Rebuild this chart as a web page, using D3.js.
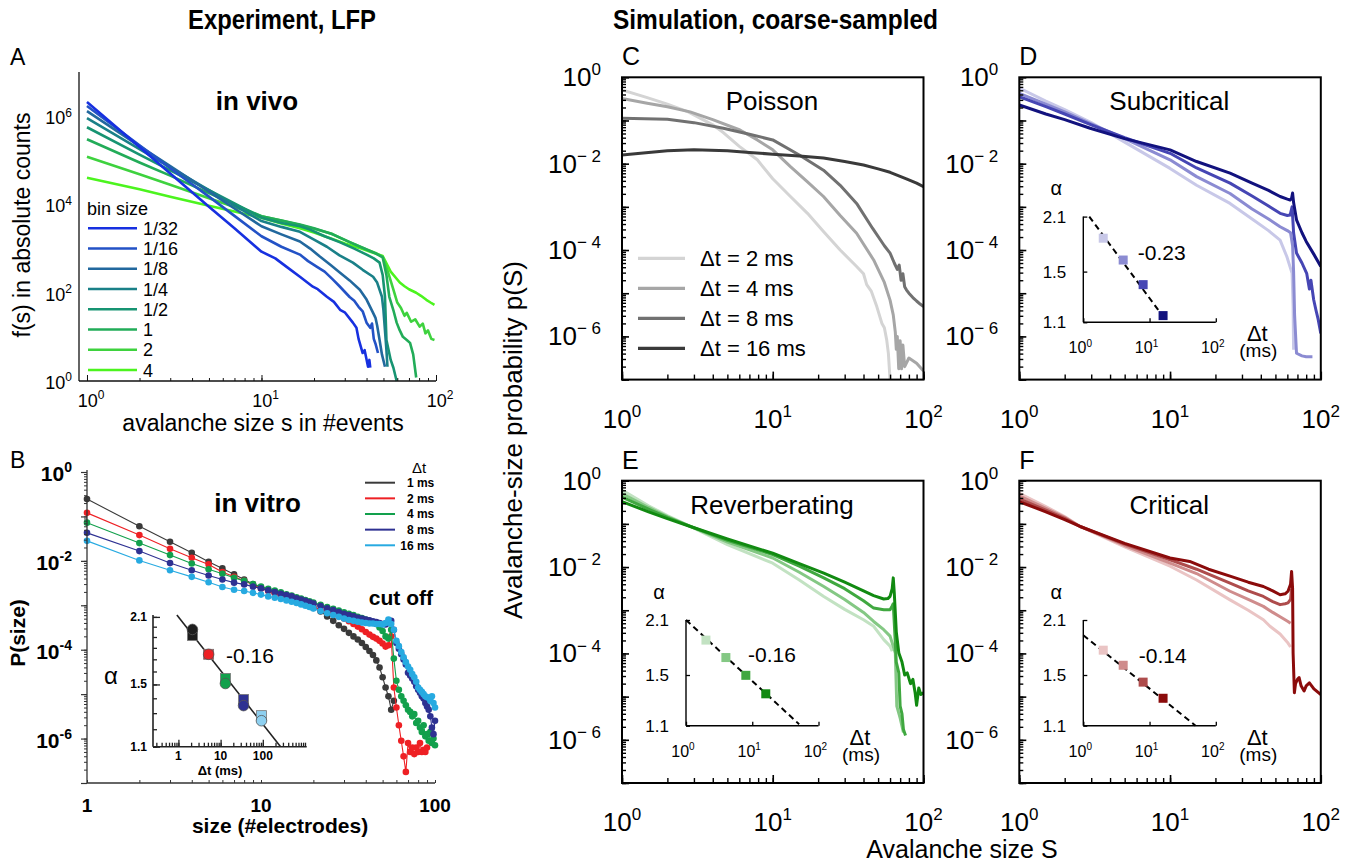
<!DOCTYPE html>
<html>
<head>
<meta charset="utf-8">
<script src="https://cdn.jsdelivr.net/npm/d3@7"></script>
<style>
  body { margin: 0; background: #fff; }
  svg { display: block; }
  text { font-family: "Liberation Sans", Arial, Helvetica, sans-serif; fill: #000; }
</style>
</head>
<body>
<script>
const width = 1364, height = 868;

// ---------- A: in vivo counts f(s), one curve per bin size ----------
const binLabels = ["1/32", "1/16", "1/8", "1/4", "1/2", "1", "2", "4"];
const binColors = ["#1730e0", "#2352c6", "#22689e", "#1a8088", "#179472", "#22ac58", "#3ed23e", "#4cf41e"];
const vivo_1_32 = [[1,2.1e6],[2,2.0e5],[3,5.0e4],[5,8.9e3],[7,2.9e3],[10,850],[12,600],[14,380],[16.6,230],[19.7,137],[21,120],[23.7,81],[26,62],[28.2,41],[30,36],[33.4,21],[35,16],[36,9],[38,4.3],[39,5],[40.8,2.1],[41.5,3],[42,2]];
const vivo_1_16 = [[1,1.7e6],[2,2.2e5],[3,6.6e4],[5,1.5e4],[7,5.5e3],[10,1.9e3],[13,1.1e3],[16.6,730],[18.5,520],[20.7,390],[23,300],[25.6,200],[28,140],[32,80],[34,66],[36,48],[38,38],[40,21],[42,16],[43,20],[44,9],[45,7],[46.5,4.3]];
const vivo_1_8 = [[1,1.3e6],[2,2.1e5],[3,7.4e4],[5,1.95e4],[7,8.1e3],[10,3.2e3],[13,2.1e3],[16.6,1.45e3],[19,1.0e3],[21.6,660],[25,420],[28.2,285],[32,190],[36.6,117],[40,70],[43.6,35],[45,27],[46,18],[47.5,8.5],[49,4],[51,2.1]];
const vivo_1_4 = [[1,9e5],[2,1.8e5],[3,6.9e4],[5,2.1e4],[7,9.5e3],[10,4.2e3],[13,3.1e3],[16.6,2.4e3],[20,1.6e3],[23.7,1.1e3],[28,700],[33.4,480],[38,330],[43.6,230],[46,170],[49,81],[50,40],[51,14],[52,5],[52.7,2.1]];
const vivo_1_2 = [[1,5.6e5],[2,1.35e5],[3,5.9e4],[5,2.1e4],[7,1.05e4],[10,5e3],[13,3.8e3],[16.6,3.2e3],[18.9,2.7e3],[23,1.9e3],[28,1.4e3],[34,1e3],[40,730],[44,600],[47.5,480],[49.5,250],[51,81],[52,8.5],[55,3],[57,2],[59.5,1]];
const vivo_1 = [[1,3e5],[2,8.9e4],[3,4.5e4],[5,1.8e4],[7,1.0e4],[10,5.4e3],[13,4.3e3],[16.6,3.5e3],[20,2.9e3],[25.6,2.1e3],[32,1.4e3],[40,950],[45,780],[49.5,630],[52,250],[54,81],[57,40],[59.5,21],[62,14],[64.6,10],[68,8.5],[71,7.3],[74,4],[77,1.2]];
const vivo_2 = [[1,1.2e5],[2,4.8e4],[3,2.8e4],[5,1.38e4],[7,8.7e3],[10,5.4e3],[13,4.3e3],[16.6,3.4e3],[20,2.8e3],[25,2.2e3],[32,1.4e3],[40,950],[45,800],[49.5,650],[53,300],[57,117],[60,60],[63,45],[66,30],[68,35],[72,22],[76,25],[80.6,17],[84,20],[87,12],[90,14],[94,9],[98,8.5]];
const vivo_4 = [[1,4e4],[2,2.2e4],[3,1.5e4],[5,9.3e3],[7,6.9e3],[10,5e3],[13,3.7e3],[16.6,2.9e3],[20,2.3e3],[25,1.7e3],[30,1.3e3],[36,1.05e3],[42,850],[49.5,680],[55,300],[62,170],[66,140],[70,120],[77,100],[82,85],[88,69],[93,60],[98,53]];
const vivoCurves = [vivo_1_32, vivo_1_16, vivo_1_8, vivo_1_4, vivo_1_2, vivo_1, vivo_2, vivo_4];

// ---------- B: in vitro P(size), log10 values at these sizes ----------
const vitroSizes = [1,2,3,4,5,6,7,8,9,10,11,12,13,14,15,16,17,18,19,20,22,24,26,28,30,32,34,36,38,40,42,44,46,48,50,52,54,56,58,60,62,64,66,68,70,72,74,76,78,80,82,84,86,88,90,92,94,96,98,100];
const vitroLabels = ["1 ms", "2 ms", "4 ms", "8 ms", "16 ms"];
const vitroColors = ["#3a3a3a", "#ee2024", "#12a04c", "#2e3192", "#27aae1"];
const logP_1ms = [-0.61,-1.22,-1.57,-1.82,-2.02,-2.17,-2.30,-2.42,-2.52,-2.60,-2.66,-2.72,-2.77,-2.82,-2.87,-2.91,-2.95,-2.99,-3.02,-3.06,
  -3.14,-3.25,-3.35,-3.45,-3.53,-3.62,-3.70,-3.77,-3.85,-3.94,-4.03,-4.12,-4.24,-4.40,-4.62,-4.85,-5.05,-5.35,-5.15];
const logP_2ms = [-0.92,-1.42,-1.73,-1.93,-2.08,-2.25,-2.36,-2.45,-2.54,-2.62,-2.68,-2.73,-2.78,-2.82,-2.86,-2.90,-2.94,-2.97,-3.00,-3.04,
  -3.10,-3.15,-3.20,-3.25,-3.30,-3.36,-3.42,-3.48,-3.54,-3.60,-3.66,-3.71,-3.75,-3.80,-3.86,-3.93,-3.90,-3.70,-4.85,-5.30,
  -5.70,-6.05,-6.40,-6.75,-6.10,-6.30,-6.20,-6.35,-6.20,-6.30,-6.10,-6.30,-6.25,-6.30,-6.20];
const logP_4ms = [-1.14,-1.60,-1.87,-2.06,-2.19,-2.29,-2.38,-2.45,-2.52,-2.58,-2.63,-2.67,-2.71,-2.75,-2.78,-2.82,-2.85,-2.88,-2.91,-2.94,
  -2.99,-3.04,-3.08,-3.12,-3.16,-3.19,-3.22,-3.26,-3.29,-3.32,-3.35,-3.38,-3.42,-3.50,-3.58,-3.70,-3.75,-3.55,-4.20,-4.70,
  -4.90,-5.05,-5.15,-5.25,-5.35,-5.40,-5.50,-5.45,-5.65,-5.60,-5.75,-5.85,-5.70,-5.95,-5.90,-6.05,-5.85,-6.10,-6.00,-6.15];
const logP_8ms = [-1.37,-1.78,-2.05,-2.21,-2.33,-2.42,-2.49,-2.53,-2.58,-2.62,-2.66,-2.70,-2.74,-2.77,-2.80,-2.84,-2.87,-2.90,-2.93,-2.96,
  -3.02,-3.07,-3.11,-3.15,-3.19,-3.22,-3.25,-3.28,-3.30,-3.32,-3.34,-3.36,-3.38,-3.40,-3.42,-3.43,-3.40,-3.35,-3.55,-3.85,
  -3.98,-4.10,-4.22,-4.33,-4.52,-4.58,-4.65,-4.72,-4.82,-4.90,-4.97,-5.05,-5.10,-5.20,-5.28,-5.35,-5.50,-5.75,-5.90,-5.60];
const logP_16ms = [-1.55,-1.99,-2.21,-2.36,-2.48,-2.59,-2.65,-2.68,-2.72,-2.76,-2.80,-2.83,-2.86,-2.89,-2.92,-2.95,-2.98,-3.01,-3.04,-3.07,
  -3.13,-3.18,-3.22,-3.26,-3.30,-3.33,-3.35,-3.37,-3.39,-3.40,-3.41,-3.41,-3.42,-3.42,-3.43,-3.40,-3.32,-3.42,-3.55,-3.80,
  -3.92,-4.05,-4.17,-4.28,-4.38,-4.45,-4.55,-4.62,-4.72,-4.85,-4.90,-4.95,-5.00,-5.05,-5.07,-5.08,-5.15,-5.05,-5.20,-5.30];
const vitroLogP = [logP_1ms, logP_2ms, logP_4ms, logP_8ms, logP_16ms];

// B inset: exponent alpha vs bin width
const vitroDt = [2.15, 5.2, 13, 35, 93];
const vitroAlphaSquare = [1.915, 1.743, 1.545, 1.392, 1.284];
const vitroAlphaCircle = [1.973, 1.743, 1.507, 1.35, 1.252];
const vitroInsetColors = ["#1e1e1e", "#ee2024", "#12a04c", "#2e3192", "#8ed0f0"];
const vitroFit = [[0.92, 2.12], [264, 1.1]];

// ---------- C-F: simulation, [S, log10 p(S)] for dt = 2, 4, 8, 16 ms ----------
const simDtLabels = ["\u0394t = 2 ms", "\u0394t = 4 ms", "\u0394t = 8 ms", "\u0394t = 16 ms"];
const poisson_2 = [[1,-0.29],[1.47,-0.47],[2,-0.62],[2.75,-0.80],[4,-1.1],[4.7,-1.28],[6,-1.6],[7.9,-1.91],[10,-2.35],[13.1,-2.76],[17,-3.15],[21.7,-3.57],[28,-4.0],[36,-4.38],[40,-4.55],[42,-4.8],[45,-4.95],[49,-5.31],[53,-5.7],[55,-5.8],[57,-6.08],[58.5,-6.4],[60,-7]];
const poisson_4 = [[1,-0.49],[1.47,-0.6],[2,-0.68],[2.83,-0.80],[4,-0.98],[6.06,-1.22],[7.9,-1.45],[10,-1.68],[13.1,-2.07],[17,-2.42],[21.7,-2.76],[28,-3.2],[36,-3.61],[46.7,-4.23],[55,-4.75],[60,-5.16],[63,-5.5],[65,-5.9],[66,-6.3],[67,-6.0],[68.5,-6.75],[70,-6.1],[71.5,-6.75],[73,-6.2],[75,-6.7],[80,-6.5],[90,-6.62],[100,-6.8]];
const poisson_8 = [[1,-0.95],[2,-0.97],[3,-1.05],[4.7,-1.18],[7,-1.32],[10,-1.45],[15,-1.8],[21.7,-2.15],[28,-2.5],[36,-2.92],[46,-3.5],[55,-3.9],[60,-4.07],[64,-4.3],[67,-4.45],[69,-4.35],[71,-4.7],[73,-4.55],[75,-4.85],[77,-4.92],[80,-5.0],[85,-5.1],[90,-5.18],[95,-5.25],[100,-5.31]];
const poisson_16 = [[1,-1.80],[1.5,-1.74],[2,-1.70],[3,-1.68],[5,-1.70],[7,-1.74],[10,-1.78],[15,-1.82],[21.7,-1.87],[30,-1.95],[40,-2.03],[50,-2.12],[60,-2.2],[77,-2.35],[90,-2.45],[100,-2.53]];

const sub_2 = [[1,-0.25],[1.5,-0.55],[2,-0.75],[3,-1.05],[5,-1.5],[10,-2.11],[15,-2.5],[25,-2.92],[35,-3.28],[45,-3.55],[53.7,-3.77],[59.5,-4.15],[64.5,-4.54],[65.5,-5.3],[66,-6.31]];
const sub_4 = [[1,-0.37],[1.5,-0.62],[2,-0.80],[3,-1.08],[5,-1.42],[10,-1.91],[15,-2.3],[25,-2.69],[35,-3.05],[45,-3.28],[53.7,-3.46],[60,-3.55],[63,-3.6],[65,-3.9],[66,-4.5],[67,-5.5],[69,-6.39],[75,-6.45],[80,-6.47],[88,-6.47]];
const sub_8 = [[1,-0.45],[1.5,-0.68],[2,-0.85],[3,-1.1],[5,-1.4],[10,-1.76],[15,-2.1],[25,-2.45],[35,-2.75],[45,-2.98],[53.7,-3.15],[60,-3.2],[62.6,-3.19],[64.5,-3.0],[66,-3.6],[69,-4.07],[75,-4.3],[80.6,-4.54],[84,-4.9],[86,-4.7],[89.7,-5.15],[93,-5.4],[96,-5.6],[100,-5.93]];
const sub_16 = [[1,-0.64],[1.5,-0.85],[2,-0.98],[2.95,-1.18],[5,-1.42],[10,-1.68],[15,-1.95],[25,-2.22],[35,-2.45],[45,-2.62],[53.7,-2.76],[60,-2.82],[62.6,-2.84],[64,-2.80],[65,-2.68],[66,-2.9],[69,-3.30],[75,-3.6],[80,-3.8],[90,-4.1],[100,-4.38]];

const rev_2 = [[1,-0.215],[1.5,-0.58],[2,-0.81],[2.84,-1.06],[5,-1.48],[10,-1.91],[15,-2.3],[21.8,-2.68],[30,-2.98],[40,-3.22],[46.7,-3.37],[54.5,-3.68],[60,-3.83],[62,-3.95]];
const rev_4 = [[1,-0.30],[1.5,-0.62],[2,-0.83],[2.84,-1.06],[5,-1.42],[10,-1.79],[15,-2.12],[21.8,-2.45],[30,-2.75],[40,-3.05],[46.7,-3.26],[54.5,-3.45],[60,-3.6],[65,-3.99],[66.5,-5.22],[70,-5.5],[73.6,-5.83]];
const rev_8 = [[1,-0.38],[1.5,-0.66],[2,-0.85],[2.84,-1.06],[5,-1.38],[10,-1.71],[15,-1.98],[21.8,-2.25],[30,-2.5],[40,-2.78],[46.7,-2.95],[54.5,-2.99],[60,-2.99],[62,-2.9],[63,-2.85],[64,-3.3],[66,-4.2],[68.6,-4.45],[70,-5.22],[72,-5.4],[73.6,-5.76],[76,-5.9]];
const rev_16 = [[1,-0.485],[1.5,-0.72],[2,-0.88],[2.84,-1.06],[5,-1.35],[10,-1.68],[15,-1.92],[21.8,-2.14],[30,-2.35],[40,-2.55],[46.7,-2.66],[54.5,-2.74],[58,-2.73],[60,-2.68],[62,-2.5],[63,-2.25],[64,-2.6],[66,-3.5],[68.6,-3.99],[72,-4.2],[75,-4.5],[78,-4.45],[82,-4.7],[85,-4.6],[88,-4.91],[90,-5.2],[93,-4.8],[96,-4.95],[100,-4.91]];

const crit_2 = [[1,-0.29],[1.5,-0.6],[2,-0.83],[2.53,-1.06],[5,-1.53],[10,-1.98],[15,-2.3],[25,-2.76],[33,-3.0],[41.6,-3.22],[46,-3.37],[53.7,-3.55],[60.6,-3.76],[63,-3.85]];
const crit_4 = [[1,-0.35],[1.5,-0.64],[2,-0.85],[2.53,-1.06],[5,-1.50],[10,-1.91],[15,-2.15],[25,-2.56],[33,-2.75],[41.6,-2.91],[48,-3.05],[53.7,-3.15],[60.6,-3.26],[63,-3.3]];
const crit_8 = [[1,-0.42],[1.5,-0.68],[2,-0.87],[2.53,-1.06],[5,-1.47],[10,-1.83],[15,-2.05],[25,-2.37],[33,-2.55],[41.6,-2.68],[48,-2.8],[53.7,-2.87],[58,-2.85],[60.6,-2.83],[63,-2.75],[64,-2.5]];
const crit_16 = [[1,-0.485],[1.5,-0.72],[2,-0.9],[2.53,-1.06],[5,-1.45],[10,-1.79],[13.5,-1.87],[18,-2.05],[25,-2.21],[33,-2.35],[41.6,-2.45],[48,-2.55],[53.7,-2.64],[58,-2.62],[60.6,-2.56],[63,-2.4],[64,-2.10],[65,-2.5],[65.5,-3.99],[66.8,-4.91],[68,-4.7],[70,-4.6],[71.8,-4.56],[74,-4.75],[77.5,-4.87],[80,-4.75],[84,-4.68],[90,-4.82],[100,-4.95]];

// insets: alpha vs dt
const simDt = [2, 4, 8, 16];
const alphaSub = [1.84, 1.61, 1.385, 1.146];
const alphaRev = [1.857, 1.669, 1.497, 1.337];
const alphaCrit = [1.746, 1.592, 1.436, 1.301];
const fitSub = [[1.23, 2.1], [16, 1.14]];
const fitRev = [[1, 2.1], [51, 1.11]];
const fitCrit = [[1, 1.914], [49.5, 1.1]];

const grayColors = ["#d4d4d4", "#a6a6a6", "#717171", "#3a3a3a"];
const blueColors = ["#c8c8e8", "#8b8bd2", "#4646b4", "#12127e"];
const greenColors = ["#c2e2c2", "#84c884", "#40a840", "#118a11"];
const redColors = ["#eac4c4", "#cf8c8c", "#ae4c4c", "#8b0b0b"];

// ---------- helpers ----------
const svg = d3.select("body").append("svg").attr("width", width).attr("height", height);
svg.append("rect").attr("width", width).attr("height", height).attr("fill", "#fff");

function logTicks(lo, hi) {
  const out = [];
  for (let d = Math.floor(Math.log10(lo)) - 1; d <= Math.ceil(Math.log10(hi)); d++)
    for (let k = 1; k < 10; k++) {
      const v = k * Math.pow(10, d);
      if (v >= lo * 0.999 && v <= hi * 1.001) out.push(v);
    }
  return out;
}
const noDomain = (s) => s.select(".domain").remove();
function styleTicks(s, w, c) {
  s.selectAll(".tick line").attr("stroke", c || "#000").attr("stroke-width", w);
}
function powText(sel, exp, fs, ss) {
  sel.attr("font-size", fs);
  sel.append("tspan").text("10");
  sel.append("tspan").attr("font-size", ss).attr("dy", -fs * 0.42).text(exp);
}

// ---------- headings ----------
svg.append("text").attr("x", 188).attr("y", 29).attr("font-size", 28).attr("font-weight", "bold")
  .attr("textLength", 188).attr("lengthAdjust", "spacingAndGlyphs").text("Experiment, LFP");
svg.append("text").attr("x", 613).attr("y", 29).attr("font-size", 28).attr("font-weight", "bold")
  .attr("textLength", 325).attr("lengthAdjust", "spacingAndGlyphs").text("Simulation, coarse-sampled");

// ---------- panel A ----------
{
  const x = d3.scaleLog().domain([0.9, 100]).range([79, 436]);
  const y = d3.scaleLog().domain([1, 1e7]).range([381, 72]);
  const g = svg.append("g");
  const line = d3.line().x((d) => x(d[0])).y((d) => y(d[1]));
  g.append("g").selectAll("path").data(vivoCurves.map((c, i) => ({ c, i })).reverse()).join("path")
    .attr("d", (d) => line(d.c)).attr("fill", "none").attr("stroke", (d) => binColors[d.i])
    .attr("stroke-width", 2.6).attr("stroke-linejoin", "round");

  g.append("line").attr("x1", 79).attr("x2", 79).attr("y1", 72).attr("y2", 381).attr("stroke", "#111").attr("stroke-width", 1.3);
  g.append("line").attr("x1", 79).attr("x2", 436).attr("y1", 381).attr("y2", 381).attr("stroke", "#111").attr("stroke-width", 1.3);
  g.append("g").attr("transform", "translate(0,381)")
    .call(d3.axisBottom(x).tickValues(logTicks(1, 100)).tickSize(-3).tickFormat(""))
    .call(noDomain).call((s) => styleTicks(s, 1, "#111"));
  g.append("g").attr("transform", "translate(0,381)")
    .call(d3.axisBottom(x).tickValues([1, 10, 100]).tickSize(-6).tickFormat(""))
    .call(noDomain).call((s) => styleTicks(s, 1, "#111"));

  [[1, "0"], [1e2, "2"], [1e4, "4"], [1e6, "6"]].forEach(([v, e]) => {
    g.append("text").attr("x", 72).attr("y", y(v) + 8).attr("text-anchor", "end").call((t) => powText(t, e, 18, 12));
  });
  [[1, "0"], [10, "1"], [100, "2"]].forEach(([v, e]) => {
    g.append("text").attr("x", x(v) + 4).attr("y", 407).attr("text-anchor", "middle").call((t) => powText(t, e, 18, 12));
  });
  g.append("text").attr("x", 263).attr("y", 431).attr("text-anchor", "middle").attr("font-size", 23).text("avalanche size s in #events");
  g.append("text").attr("transform", "translate(30,225) rotate(-90)").attr("text-anchor", "middle").attr("font-size", 23).text("f(s) in absolute counts");
  g.append("text").attr("x", 10).attr("y", 65).attr("font-size", 23).text("A");
  g.append("text").attr("x", 257).attr("y", 110).attr("text-anchor", "middle").attr("font-size", 26).attr("font-weight", "bold").text("in vivo");

  const leg = g.append("g");
  leg.append("text").attr("x", 87).attr("y", 215).attr("font-size", 18).text("bin size");
  binLabels.forEach((lab, i) => {
    const yy = 228.3 + i * 20.25;
    leg.append("line").attr("x1", 88).attr("x2", 137).attr("y1", yy).attr("y2", yy).attr("stroke", binColors[i]).attr("stroke-width", 2.6);
    leg.append("text").attr("x", 143).attr("y", yy + 6.5).attr("font-size", 18).text(lab);
  });
}

// ---------- panel B ----------
{
  const x = d3.scaleLog().domain([1, 100]).range([87, 435]);
  const y = d3.scaleLog().domain([1e-7, 1]).range([783, 472]);
  const g = svg.append("g");
  const line = d3.line().x((d) => x(d[0])).y((d) => y(d[1]));
  vitroLogP.forEach((vals, i) => {
    const pts = vals.map((v, k) => [vitroSizes[k], Math.pow(10, v)]);
    const sg = g.append("g");
    sg.append("path").attr("d", line(pts)).attr("fill", "none").attr("stroke", vitroColors[i]).attr("stroke-width", 1.1);
    sg.selectAll("circle").data(pts).join("circle")
      .attr("cx", (d) => x(d[0])).attr("cy", (d) => y(d[1])).attr("r", 3.3).attr("fill", vitroColors[i]);
  });

  g.append("line").attr("x1", 87).attr("x2", 87).attr("y1", 470).attr("y2", 783).attr("stroke", "#333").attr("stroke-width", 1.3);
  g.append("line").attr("x1", 87).attr("x2", 435).attr("y1", 783).attr("y2", 783).attr("stroke", "#333").attr("stroke-width", 1.3);
  g.append("g").attr("transform", "translate(87,0)")
    .call(d3.axisLeft(y).tickValues(logTicks(1e-7, 1)).tickSize(3).tickFormat(""))
    .call(noDomain).call((s) => styleTicks(s, 1, "#333"));
  g.append("g").attr("transform", "translate(87,0)")
    .call(d3.axisLeft(y).tickValues([1e-7, 1e-6, 1e-5, 1e-4, 1e-3, 1e-2, 1e-1, 1]).tickSize(6).tickFormat(""))
    .call(noDomain).call((s) => styleTicks(s, 1.2, "#333"));
  g.append("g").attr("transform", "translate(0,783)")
    .call(d3.axisBottom(x).tickValues(logTicks(1, 100)).tickSize(-3).tickFormat(""))
    .call(noDomain).call((s) => styleTicks(s, 1, "#333"));

  [[1, "0"], [1e-2, "-2"], [1e-4, "-4"], [1e-6, "-6"]].forEach(([v, e]) => {
    g.append("text").attr("x", 72).attr("y", y(v) + 9).attr("text-anchor", "end").attr("font-weight", "bold")
      .attr("fill", "#333").call((t) => powText(t, e, 21, 14));
  });
  [[1, "1"], [10, "10"], [100, "100"]].forEach(([v, s]) => {
    g.append("text").attr("x", x(v)).attr("y", 811.7).attr("text-anchor", "middle").attr("font-size", 19)
      .attr("font-weight", "bold").attr("fill", "#333").text(s);
  });
  g.append("text").attr("x", 280).attr("y", 833).attr("text-anchor", "middle").attr("font-size", 21).attr("font-weight", "bold")
    .attr("fill", "#333").text("size (#electrodes)");
  g.append("text").attr("transform", "translate(25,633) rotate(-90)").attr("text-anchor", "middle").attr("font-size", 21)
    .attr("font-weight", "bold").attr("fill", "#333").text("P(size)");
  g.append("text").attr("x", 10).attr("y", 468).attr("font-size", 23).text("B");
  g.append("text").attr("x", 257.5).attr("y", 511.7).attr("text-anchor", "middle").attr("font-size", 26).attr("font-weight", "bold").text("in vitro");
  g.append("text").attr("x", 433).attr("y", 605).attr("text-anchor", "end").attr("font-size", 21).attr("font-weight", "bold")
    .attr("fill", "#333").text("cut off");

  // legend
  g.append("text").attr("x", 419).attr("y", 473).attr("text-anchor", "middle").attr("font-size", 15).attr("fill", "#333").text("\u0394t");
  vitroLabels.forEach((lab, i) => {
    const yy = 482.7 + i * 15.65;
    g.append("line").attr("x1", 365).attr("x2", 395).attr("y1", yy).attr("y2", yy).attr("stroke", vitroColors[i]).attr("stroke-width", 2);
    g.append("text").attr("x", 434.3).attr("y", yy + 4.3).attr("text-anchor", "end").attr("font-size", 12)
      .attr("font-weight", "bold").attr("fill", "#333").text(lab);
  });

  // inset
  const ix = d3.scaleLog().domain([0.25, 1000]).range([153, 305]);
  const iy = d3.scaleLog().domain([1.1, 2.12]).range([746.7, 615]);
  const ig = g.append("g");
  ig.append("line").attr("x1", 153).attr("x2", 153).attr("y1", 615).attr("y2", iy(1.1)).attr("stroke", "#222").attr("stroke-width", 1.6);
  ig.append("line").attr("x1", 153).attr("x2", 306.7).attr("y1", iy(1.1)).attr("y2", iy(1.1)).attr("stroke", "#222").attr("stroke-width", 1.6);
  const alphaTicks = [1.1, 1.2, 1.3, 1.4, 1.5, 1.6, 1.7, 1.8, 1.9, 2.0, 2.1];
  ig.append("g").attr("transform", "translate(153,0)")
    .call(d3.axisLeft(iy).tickValues(alphaTicks).tickSize(-4).tickFormat(""))
    .call(noDomain).call((s) => styleTicks(s, 1.3, "#222"));
  ig.append("g").attr("transform", "translate(153,0)")
    .call(d3.axisLeft(iy).tickValues([1.1, 1.5, 2.1]).tickSize(-7).tickFormat(""))
    .call(noDomain).call((s) => styleTicks(s, 1.3, "#222"));
  ig.append("g").attr("transform", `translate(0,${iy(1.1)})`)
    .call(d3.axisBottom(ix).tickValues(logTicks(0.3, 1000)).tickSize(-4).tickFormat(""))
    .call(noDomain).call((s) => styleTicks(s, 1.3, "#222"));
  ig.append("g").attr("transform", `translate(0,${iy(1.1)})`)
    .call(d3.axisBottom(ix).tickValues([1, 10, 100]).tickSize(-7).tickFormat(""))
    .call(noDomain).call((s) => styleTicks(s, 1.3, "#222"));
  [1.1, 1.5, 2.1].forEach((v) => {
    ig.append("text").attr("x", 147).attr("y", iy(v) + 4).attr("text-anchor", "end").attr("font-size", 12)
      .attr("font-weight", "bold").attr("fill", "#333").text(v.toFixed(1));
  });
  [1, 10, 100].forEach((v) => {
    ig.append("text").attr("x", ix(v)).attr("y", 760).attr("text-anchor", "middle").attr("font-size", 12)
      .attr("font-weight", "bold").attr("fill", "#333").text(v);
  });
  ig.append("text").attr("x", 220).attr("y", 775).attr("text-anchor", "middle").attr("font-size", 13)
    .attr("font-weight", "bold").attr("fill", "#333").text("\u0394t (ms)");
  ig.append("text").attr("x", 111).attr("y", 684).attr("text-anchor", "middle").attr("font-size", 24)
    .attr("font-family", "\"Liberation Serif\", \"Times New Roman\", serif").text("\u03b1");
  ig.append("path").attr("d", d3.line().x((d) => ix(d[0])).y((d) => iy(d[1]))(vitroFit))
    .attr("stroke", "#222").attr("stroke-width", 1.6).attr("fill", "none");
  ig.selectAll("rect.sq").data(vitroDt).join("rect").attr("class", "sq")
    .attr("x", (d) => ix(d) - 5).attr("y", (d, i) => iy(vitroAlphaSquare[i]) - 5).attr("width", 10).attr("height", 10)
    .attr("fill", (d, i) => vitroInsetColors[i]).attr("stroke", "#777").attr("stroke-width", 0.8);
  ig.selectAll("circle").data(vitroDt).join("circle")
    .attr("cx", (d) => ix(d)).attr("cy", (d, i) => iy(vitroAlphaCircle[i])).attr("r", 5.3)
    .attr("fill", (d, i) => vitroInsetColors[i]).attr("stroke", "#555").attr("stroke-width", 0.8);
  ig.append("text").attr("x", 250).attr("y", 663).attr("text-anchor", "middle").attr("font-size", 21).text("-0.16");
}

// ---------- panels C-F ----------
const simW = 301.5, simH = 302.3;
const simPanels = [
  { id: "C", x0: 622, y0: 77.3, title: "Poisson", curves: [poisson_2, poisson_4, poisson_8, poisson_16], colors: grayColors, legend: true },
  { id: "D", x0: 1019.3, y0: 77.3, title: "Subcritical", curves: [sub_2, sub_4, sub_8, sub_16], colors: blueColors,
    inset: { alpha: alphaSub, fit: fitSub, label: "-0.23", lx: 142.4, ly: 176 } },
  { id: "E", x0: 622, y0: 480.7, title: "Reverberating", curves: [rev_2, rev_4, rev_8, rev_16], colors: greenColors,
    inset: { alpha: alphaRev, fit: fitRev, label: "-0.16", lx: 150, ly: 174.3 } },
  { id: "F", x0: 1019.3, y0: 480.7, title: "Critical", curves: [crit_2, crit_4, crit_8, crit_16], colors: redColors,
    inset: { alpha: alphaCrit, fit: fitCrit, label: "-0.14", lx: 143.4, ly: 175.3 } },
];

simPanels.forEach((p) => {
  const g = svg.append("g");
  const x = d3.scaleLog().domain([1, 100]).range([p.x0, p.x0 + simW]);
  const y = d3.scaleLog().domain([1e-7, 1]).range([p.y0 + simH, p.y0]);
  svg.append("clipPath").attr("id", "clip" + p.id).append("rect")
    .attr("x", p.x0).attr("y", p.y0).attr("width", simW).attr("height", simH);
  const line = d3.line().x((d) => x(d[0])).y((d) => y(Math.pow(10, d[1])));
  g.append("g").attr("clip-path", `url(#clip${p.id})`).selectAll("path").data(p.curves).join("path")
    .attr("d", line).attr("fill", "none").attr("stroke", (d, i) => p.colors[i])
    .attr("stroke-width", 3).attr("stroke-linejoin", "round");

  // ticks (inside), frame
  g.append("g").attr("transform", `translate(${p.x0},0)`)
    .call(d3.axisLeft(y).tickValues(logTicks(1e-7, 1)).tickSize(-4).tickFormat(""))
    .call(noDomain).call((s) => styleTicks(s, 1.4));
  g.append("g").attr("transform", `translate(${p.x0},0)`)
    .call(d3.axisLeft(y).tickValues([1e-7, 1e-6, 1e-5, 1e-4, 1e-3, 1e-2, 1e-1, 1]).tickSize(-7).tickFormat(""))
    .call(noDomain).call((s) => styleTicks(s, 1.6));
  g.append("g").attr("transform", `translate(0,${p.y0 + simH})`)
    .call(d3.axisBottom(x).tickValues(logTicks(1, 100)).tickSize(-5).tickFormat(""))
    .call(noDomain).call((s) => styleTicks(s, 1.4));
  g.append("g").attr("transform", `translate(0,${p.y0 + simH})`)
    .call(d3.axisBottom(x).tickValues([1, 10, 100]).tickSize(-8).tickFormat(""))
    .call(noDomain).call((s) => styleTicks(s, 1.6));
  g.append("rect").attr("x", p.x0).attr("y", p.y0).attr("width", simW).attr("height", simH)
    .attr("fill", "none").attr("stroke", "#000").attr("stroke-width", 2);

  [[1, "0"], [1e-2, "\u2212 2"], [1e-4, "\u2212 4"], [1e-6, "\u2212 6"]].forEach(([v, e]) => {
    g.append("text").attr("x", p.x0 - 21).attr("y", y(v) + 9).attr("text-anchor", "end").call((t) => powText(t, e, 26, 17));
  });
  [[1, "0"], [10, "1"], [100, "2"]].forEach(([v, e]) => {
    g.append("text").attr("x", x(v)).attr("y", p.y0 + simH + 48).attr("text-anchor", "middle").call((t) => powText(t, e, 26, 17));
  });
  g.append("text").attr("x", p.x0).attr("y", p.y0 - 12).attr("font-size", 25).text(p.id);
  g.append("text").attr("x", p.x0 + 150).attr("y", p.y0 + 33).attr("text-anchor", "middle").attr("font-size", 26).text(p.title);

  if (p.legend) {
    p.colors.forEach((c, i) => {
      const yy = p.y0 + 181 + i * 30;
      g.append("line").attr("x1", p.x0 + 16).attr("x2", p.x0 + 63).attr("y1", yy).attr("y2", yy).attr("stroke", c).attr("stroke-width", 3.2);
      g.append("text").attr("x", p.x0 + 78).attr("y", yy + 8).attr("font-size", 22).text(simDtLabels[i]);
    });
  }

  if (p.inset) {
    const L = p.x0 + 64, B = p.y0 + 245, T = p.y0 + 139.3, R = L + 132.5;
    const ix = d3.scaleLog().domain([1, 100]).range([L, R]);
    const iy = d3.scaleLog().domain([1.1, 2.1]).range([B, T]);
    const ig = g.append("g");
    ig.append("line").attr("x1", L).attr("x2", L).attr("y1", T).attr("y2", B).attr("stroke", "#000").attr("stroke-width", 1.4);
    ig.append("line").attr("x1", L).attr("x2", R).attr("y1", B).attr("y2", B).attr("stroke", "#000").attr("stroke-width", 1.4);
    ig.append("g").attr("transform", `translate(${L},0)`)
      .call(d3.axisLeft(iy).tickValues([1.1, 1.5, 2.1]).tickSize(-4).tickFormat(""))
      .call(noDomain).call((s) => styleTicks(s, 1.3));
    ig.append("g").attr("transform", `translate(0,${B})`)
      .call(d3.axisBottom(ix).tickValues([1, 10, 100]).tickSize(-4).tickFormat(""))
      .call(noDomain).call((s) => styleTicks(s, 1.3));
    [1.1, 1.5, 2.1].forEach((v) => {
      ig.append("text").attr("x", L - 17).attr("y", iy(v) + 6).attr("text-anchor", "end").attr("font-size", 17).text(v.toFixed(1));
    });
    [[1, "0"], [10, "1"], [100, "2"]].forEach(([v, e]) => {
      ig.append("text").attr("x", ix(v) - 3).attr("y", B + 31).attr("text-anchor", "middle").call((t) => powText(t, e, 16, 10));
    });
    ig.append("text").attr("x", p.x0 + 37).attr("y", p.y0 + 118).attr("text-anchor", "middle").attr("font-size", 20).text("\u03b1");
    ig.append("text").attr("x", p.x0 + 238).attr("y", p.y0 + 264).attr("text-anchor", "middle").attr("font-size", 22).text("\u0394t");
    ig.append("text").attr("x", p.x0 + 239).attr("y", p.y0 + 280).attr("text-anchor", "middle").attr("font-size", 19).text("(ms)");
    ig.append("path").attr("d", d3.line().x((d) => ix(d[0])).y((d) => iy(d[1]))(p.inset.fit))
      .attr("stroke", "#000").attr("stroke-width", 2).attr("stroke-dasharray", "6,4").attr("fill", "none");
    ig.selectAll("rect.sq").data(simDt).join("rect").attr("class", "sq")
      .attr("x", (d) => ix(d) - 4.5).attr("y", (d, i) => iy(p.inset.alpha[i]) - 4.5).attr("width", 9).attr("height", 9)
      .attr("fill", (d, i) => p.colors[i]);
    ig.append("text").attr("x", p.x0 + p.inset.lx).attr("y", p.y0 + p.inset.ly + 7).attr("text-anchor", "middle")
      .attr("font-size", 21).text(p.inset.label);
  }
});

// shared axis titles for C-F
svg.append("text").attr("transform", "translate(522,440) rotate(-90)").attr("text-anchor", "middle").attr("font-size", 26)
  .text("Avalanche-size probability p(S)");
svg.append("text").attr("x", 962).attr("y", 858).attr("text-anchor", "middle").attr("font-size", 25).text("Avalanche size S");
</script>
</body>
</html>
